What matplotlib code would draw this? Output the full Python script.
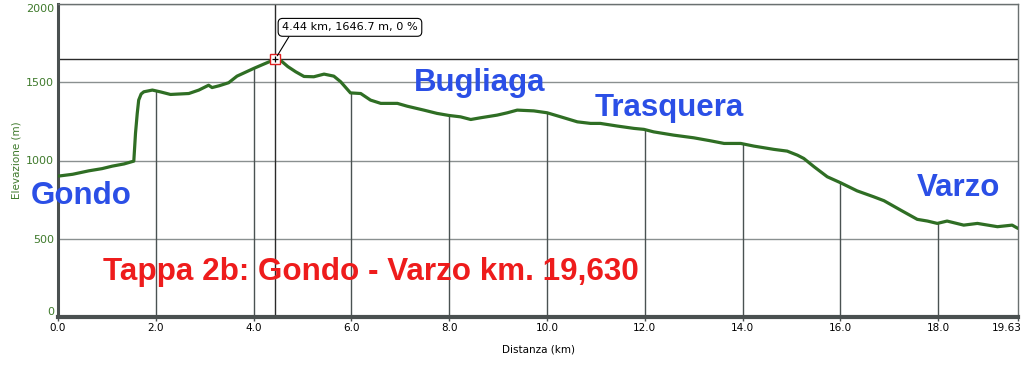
import numpy as np
import matplotlib
matplotlib.use("Agg")
import matplotlib.pyplot as plt
import matplotlib.transforms as mtransforms

# ---- data ----
dist_km = [0.0, 0.3, 0.63, 0.9, 1.11, 1.35, 1.55, 1.585, 1.62, 1.65, 1.7, 1.755, 1.93, 2.1, 2.30,
           2.675, 2.88, 3.08, 3.15, 3.3, 3.49, 3.66, 4.0, 4.2, 4.44, 4.55, 4.7, 4.86, 5.03,
           5.23, 5.44, 5.64, 5.78, 5.98, 6.19, 6.39, 6.6, 6.94, 7.14, 7.48, 7.75, 7.99,
           8.23, 8.44, 8.64, 8.98, 9.19, 9.39, 9.73, 10.0, 10.28, 10.62, 10.89, 11.09,
           11.44, 11.78, 11.98, 12.18, 12.59, 13.0, 13.34, 13.62, 13.96, 14.23, 14.64,
           14.91, 15.12, 15.25, 15.46, 15.73, 16.0, 16.34, 16.68, 16.89, 17.23, 17.57,
           17.78, 17.98, 18.18, 18.52, 18.80, 19.21, 19.51, 19.63]
elev_m = [900, 912, 934, 948, 964, 978, 996, 1175, 1300, 1386, 1425, 1439, 1450, 1438, 1422,
          1428, 1450, 1481, 1466, 1478, 1497, 1539, 1588, 1615, 1646.7, 1640, 1600, 1567, 1537,
          1535, 1552, 1539, 1503, 1432, 1428, 1386, 1365, 1365, 1347, 1322, 1301, 1288,
          1279, 1262, 1273, 1290, 1305, 1322, 1317, 1305, 1279, 1247, 1237, 1237,
          1220, 1205, 1199, 1183, 1162, 1145, 1126, 1109, 1109, 1092, 1071,
          1060, 1034, 1013, 960, 896, 858, 806, 768, 743, 683, 624,
          613, 598, 613, 587, 598, 577, 587, 566]
x_ticks = [0, 2, 4, 6, 8, 10, 12, 14, 16, 18, 19.63]
x_tick_labels = ["0.0", "2.0", "4.0", "6.0", "8.0", "10.0", "12.0", "14.0", "16.0", "18.0", "19.63"]
y_ticks = [0, 500, 1000, 1500, 2000]
marker_km = 4.44
marker_elev = 1646.7
marker_label = "4.44 km, 1646.7 m, 0 %"
places = ["Gondo", "Bugliaga", "Trasquera", "Varzo"]
place_km = [-0.55, 7.27, 10.97, 17.57]
place_elev = [775, 1495, 1335, 825]
title_text = "Tappa 2b: Gondo - Varzo km. 19,630"

LINE = "#2f6e24"
GREEN_TXT = "#3f7a2c"
BLUE = "#2b4fe6"
RED = "#ee1c1c"

fig = plt.figure(figsize=(10.24, 3.68), dpi=100)
ax = fig.add_axes([58/1024, 51/368, 960/1024, 313/368])
ax.set_xlim(0, 19.63)
ax.set_ylim(0, 2000)

# horizontal grid lines
for yv in y_ticks[1:]:
    ax.axhline(yv, color="#8a9090", lw=1.0, zorder=1)

# vertical drop lines
for xv in x_ticks[1:-1]:
    top = np.interp(xv, dist_km, elev_m)
    ax.plot([xv, xv], [0, top], color="#4a5252", lw=1.0, zorder=1)

# crosshair
ax.axhline(marker_elev, color="#2a2a2a", lw=1.0, zorder=2)
ax.axvline(marker_km, color="#2a2a2a", lw=1.0, zorder=2)

# profile
ax.plot(dist_km, elev_m, color=LINE, lw=2.3, solid_joinstyle="round",
        solid_capstyle="round", zorder=3)

# marker
ax.plot([marker_km], [marker_elev], marker="s", ms=7, mfc="white", mec="#e02020",
        mew=1.0, zorder=5)
ax.plot([marker_km], [marker_elev], marker="+", ms=5, color="black", mew=0.9, zorder=6)

ax.annotate(marker_label, xy=(marker_km, marker_elev), xycoords="data",
            xytext=(5, 23), textcoords="offset points", fontsize=8.1,
            fontfamily="DejaVu Sans", ha="left", va="center",
            bbox=dict(boxstyle="round,pad=0.35,rounding_size=0.4", fc="white",
                      ec="black", lw=0.8),
            arrowprops=dict(arrowstyle="-", color="black", lw=0.8,
                            shrinkA=0, shrinkB=3, relpos=(0.07, 0.0)),
            zorder=7)

# spines
for s in ["top", "right"]:
    ax.spines[s].set_color("#6a7070")
    ax.spines[s].set_linewidth(1.0)
ax.spines["left"].set_color("#4a5050")
ax.spines["left"].set_linewidth(2.2)
ax.spines["bottom"].set_color("#4a5050")
ax.spines["bottom"].set_linewidth(3.0)

ax.set_xticks(x_ticks)
ax.set_xticklabels(x_tick_labels, fontsize=7.5, fontfamily="DejaVu Sans")
ax.set_yticks(y_ticks)
ax.set_yticklabels([str(v) for v in y_ticks], fontsize=8, color=GREEN_TXT,
                   fontfamily="DejaVu Sans")
ax.tick_params(axis="x", length=3, width=1.0, color="#4a5050", pad=1.5)
ax.tick_params(axis="y", length=0, pad=3)
ylbls = ax.get_yticklabels()
ylbls[0].set_verticalalignment("bottom")
for lbl in ylbls[1:-1]:
    lbl.set_verticalalignment("center_baseline")
ylbls[-1].set_verticalalignment("top")
last = ax.get_xticklabels()[-1]
last.set_horizontalalignment("right")
last.set_transform(last.get_transform() + mtransforms.ScaledTranslation(4/100, 0, fig.dpi_scale_trans))

ax.set_xlabel("Distanza (km)", fontsize=7.5, fontfamily="DejaVu Sans", labelpad=8)
ax.set_ylabel("Elevazione (m)", fontsize=7.5, color=GREEN_TXT,
              fontfamily="DejaVu Sans", labelpad=3)

# place names
for name, xk, ye in zip(places, place_km, place_elev):
    ax.text(xk, ye, name, fontsize=22.5, fontweight="bold", color=BLUE,
            fontfamily="Liberation Sans", ha="left", va="center", zorder=4,
            clip_on=False)

ax.text(0.92, 285, title_text, fontsize=22.6, fontweight="bold", color=RED,
        fontfamily="Liberation Sans", ha="left", va="center", zorder=4)

fig.savefig("out.png", dpi=100)
